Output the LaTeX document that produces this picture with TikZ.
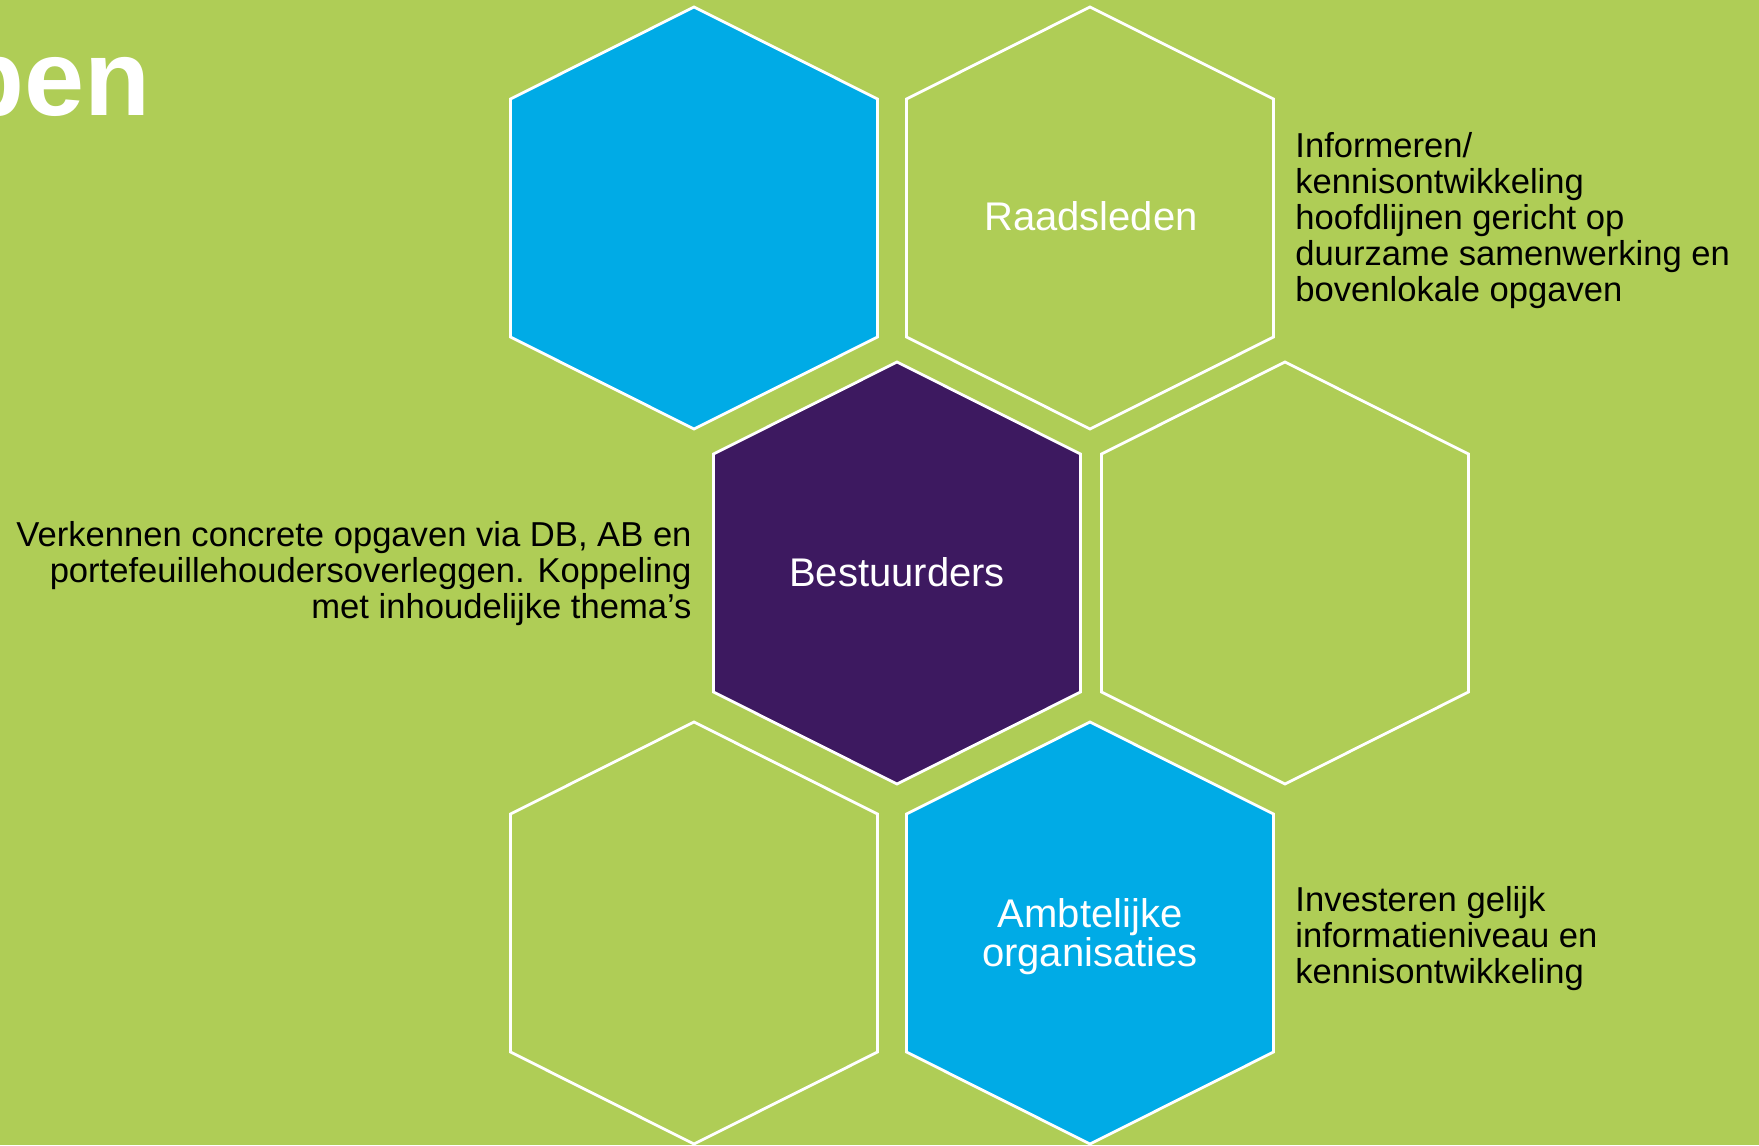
\documentclass[tikz,border=0pt]{standalone}
\usepackage{fontspec}
\setmainfont{Liberation Sans}
\usepackage{tikz}
\usetikzlibrary{positioning, calc}

\definecolor{slidegreen}{RGB}{175,205,86}
\definecolor{hexblue}{RGB}{0,171,230}
\definecolor{hexpurple}{RGB}{61,25,96}

\tikzset{
    hexcell/.style={draw=white, line width=1.4pt, line join=miter},
    hexlabel/.style={text=white, inner sep=0, align=center, font=\fontsize{20}{19.5}\selectfont},
    sidetext/.style={text=black, inner sep=0, font=\fontsize{17.3}{18}\selectfont}
}

% half width, half side, tip height of one cell (in px)
\def\hexw{183.5}
\def\hexs{119}
\def\hext{92}

\begin{document}
\begin{tikzpicture}[x=0.5pt, y=-0.5pt]
    \useasboundingbox (0,0) rectangle (1759,1145);
    \clip (0,0) rectangle (1759,1145);
    \fill[slidegreen] (0,0) rectangle (1759,1145);

    \coordinate (H1) at (694,218);
    \coordinate (H2) at (1090,218);
    \coordinate (H3) at (897,573);
    \coordinate (H4) at (1285,573);
    \coordinate (H5) at (694,933);
    \coordinate (H6) at (1090,933);

    % honeycomb
    \foreach \c/\co in {
        H1/hexblue,
        H2/slidegreen,
        H3/hexpurple,
        H4/slidegreen,
        H5/slidegreen,
        H6/hexblue}
    {
        \draw[hexcell, fill=\co, shift={(\c)}]
            (0,-\hexs-\hext) -- (\hexw,-\hexs) -- (\hexw,\hexs)
            -- (0,\hexs+\hext) -- (-\hexw,\hexs) -- (-\hexw,-\hexs) -- cycle;
    }

    % title (cut off at the left)
    \node[anchor=base west, inner sep=0, text=white, font=\fontsize{54}{54}\bfseries\selectfont] (titel) at (-42,115) {pen};

    % labels in the cells (base = last line)
    \node[hexlabel, anchor=base] (raadsleden) at (1091,230) {Raadsleden};
    \node[hexlabel, anchor=base] (bestuurders) at (897,586) {Bestuurders};
    \node[hexlabel, anchor=base] (ambtelijk) at (1090,966) {Ambtelijke\\organisaties};

    % explanations (base = last line)
    \node[sidetext, anchor=base west, align=left] (uitleg raad) at (1295,301)
        {Informeren/\\kennisontwikkeling\\hoofdlijnen gericht op\\duurzame samenwerking en\\bovenlokale opgaven};
    \node[sidetext, anchor=base east, align=right] (uitleg bestuur) at (692,618)
        {Verkennen concrete opgaven via DB, AB en\\portefeuillehoudersoverleggen. Koppeling\\met inhoudelijke thema’s};
    \node[sidetext, anchor=base west, align=left] (uitleg ambtelijk) at (1295,983)
        {Investeren gelijk\\informatieniveau en\\kennisontwikkeling};
\end{tikzpicture}
\end{document}
